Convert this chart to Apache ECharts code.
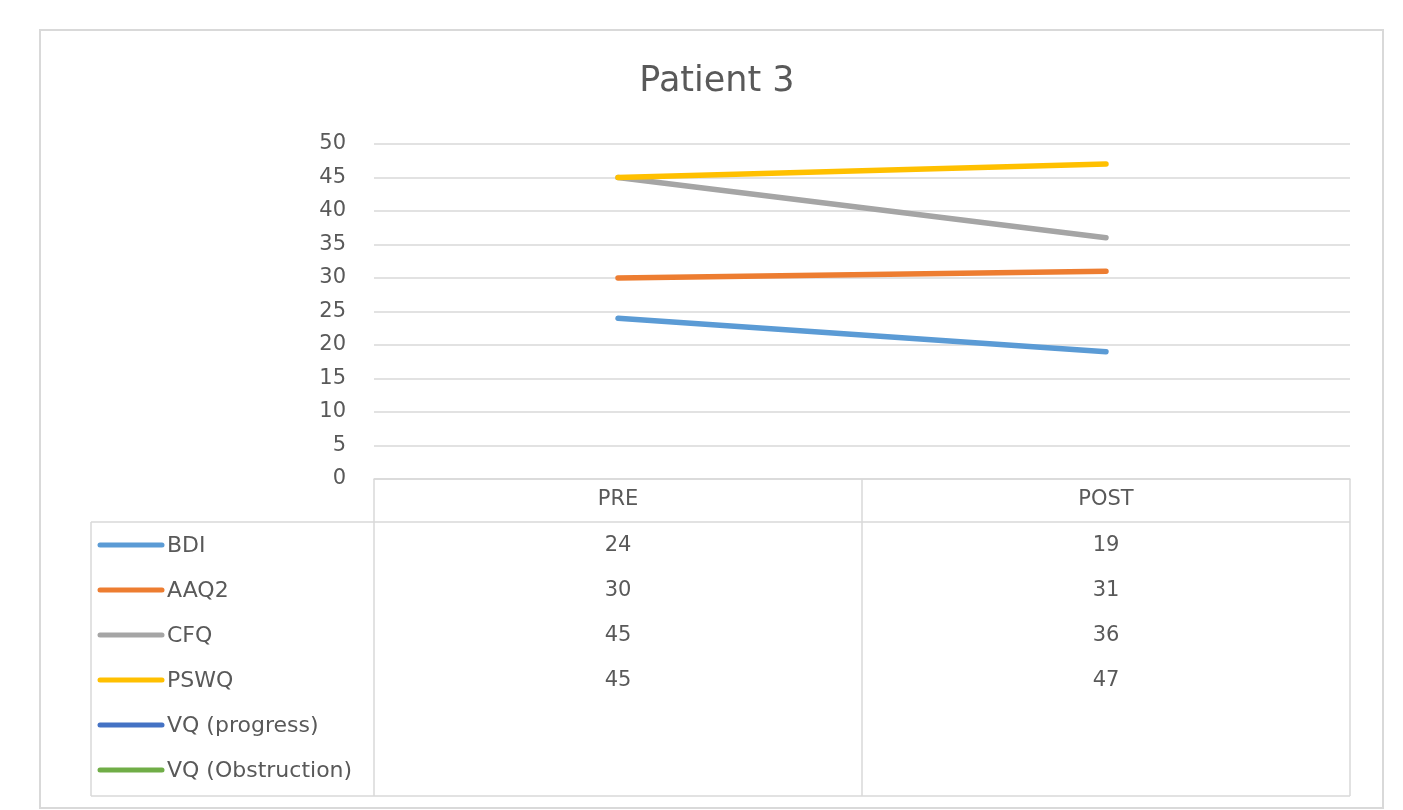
<!DOCTYPE html>
<html>
<head>
<meta charset="utf-8">
<script src="https://cdn.jsdelivr.net/npm/echarts@6/dist/echarts.min.js"></script>
<style>
  html, body { margin: 0; padding: 0; background: #fff; }
  #chart { width: 1403px; height: 810px; }
</style>
</head>
<body>
<div id="chart"></div>
<script>
// Questionnaire scores before and after treatment
const categories = ['PRE', 'POST'];
const seriesNames = ['BDI', 'AAQ2', 'CFQ', 'PSWQ', 'VQ (progress)', 'VQ (Obstruction)'];
const bdi = [24, 19];
const aaq2 = [30, 31];
const cfq = [45, 36];
const pswq = [45, 47];
const vqProgress = [null, null];
const vqObstruction = [null, null];
const yTicks = [0, 5, 10, 15, 20, 25, 30, 35, 40, 45, 50];

const seriesValues = [bdi, aaq2, cfq, pswq, vqProgress, vqObstruction];
const colors = ['#5B9BD5', '#ED7D31', '#A5A5A5', '#FFC000', '#4472C4', '#70AD47'];
const textColor = '#595959';
const lineGray = '#d9d9d9';
const font = '"DejaVu Sans", "Open Sans", sans-serif';
const labelSize = 21;
const tableTextSize = 22;

const chart = echarts.init(document.getElementById('chart'));

const grid = { left: 374, right: 53, top: 144, bottom: 331 };

chart.setOption({
  animation: false,
  backgroundColor: '#fff',
  title: {
    text: 'Patient 3',
    left: 712,
    top: 59,
    textAlign: 'center',
    textStyle: { color: textColor, fontSize: 35, fontWeight: 'normal', fontFamily: font }
  },
  grid: grid,
  xAxis: {
    type: 'category',
    data: categories,
    boundaryGap: true,
    axisLine: { show: true, lineStyle: { color: lineGray, width: 1.5 } },
    axisTick: { show: false },
    axisLabel: { color: textColor, fontSize: labelSize, fontFamily: font, margin: 10 },
    splitLine: { show: false }
  },
  yAxis: {
    type: 'value',
    min: yTicks[0],
    max: yTicks[yTicks.length - 1],
    interval: yTicks[1] - yTicks[0],
    axisLine: { show: false },
    axisTick: { show: false },
    axisLabel: { color: textColor, fontSize: labelSize, fontFamily: font, margin: 28 },
    splitLine: { lineStyle: { color: lineGray, width: 1.5 } }
  },
  series: seriesNames.map((name, i) => ({
    name: name,
    type: 'line',
    data: seriesValues[i],
    showSymbol: false,
    symbol: 'none',
    lineStyle: { color: colors[i], width: 5.5, cap: 'round' },
    itemStyle: { color: colors[i] },
    z: 3
  }))
});

// Data table under the axis
function buildTable() {
  const plotLeft = grid.left;
  const plotRight = 1403 - grid.right;
  const axisY = 810 - grid.bottom;
  const tableLeft = 91;
  const headerBottom = 522;
  const tableBottom = 796;
  const rowTop = 545;
  const rowStep = 45;
  const colCenters = categories.map((c) => chart.convertToPixel({ xAxisIndex: 0 }, c));
  const midLine = (colCenters[0] + colCenters[1]) / 2;

  const g = [];
  // outer frame of the chart
  g.push({ type: 'rect', shape: { x: 40, y: 30, width: 1343, height: 778 },
    style: { fill: null, stroke: lineGray, lineWidth: 2 }, silent: true, z: 0 });

  const ln = (x1, y1, x2, y2) => g.push({ type: 'line', shape: { x1, y1, x2, y2 },
    style: { stroke: lineGray, lineWidth: 1.5 }, silent: true });
  ln(plotLeft, axisY, plotLeft, tableBottom);
  ln(midLine, axisY, midLine, tableBottom);
  ln(plotRight, axisY, plotRight, tableBottom);
  ln(tableLeft, headerBottom, plotRight, headerBottom);
  ln(tableLeft, headerBottom, tableLeft, tableBottom);
  ln(tableLeft, tableBottom, plotRight, tableBottom);

  seriesNames.forEach((name, i) => {
    const y = rowTop + i * rowStep;
    g.push({ type: 'line', shape: { x1: 100, y1: y, x2: 162, y2: y },
      style: { stroke: colors[i], lineWidth: 5, lineCap: 'round' }, silent: true });
    g.push({ type: 'text', x: 167, y: y + 1,
      style: { text: name, fill: textColor, font: tableTextSize + 'px ' + font, textVerticalAlign: 'middle', textAlign: 'left' },
      silent: true });
    seriesValues[i].forEach((v, j) => {
      if (v == null) return;
      g.push({ type: 'text', x: colCenters[j], y: y + 1,
        style: { text: String(v), fill: textColor, font: labelSize + 'px ' + font, textVerticalAlign: 'middle', textAlign: 'center' },
        silent: true });
    });
  });
  chart.setOption({ graphic: g });
}
buildTable();
</script>
</body>
</html>
